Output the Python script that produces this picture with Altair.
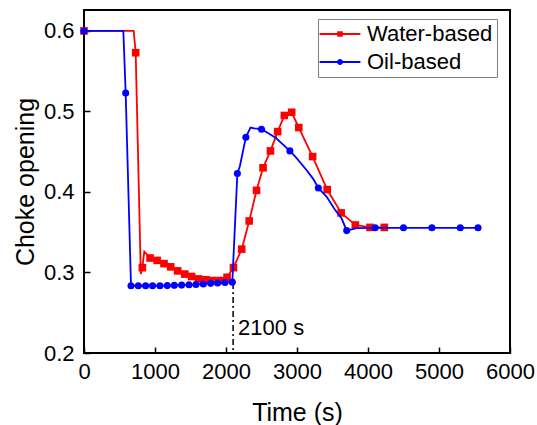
import altair as alt
import pandas as pd

# ---- data ----
water_x = [0, 700, 728, 800, 822, 849, 930, 1030, 1127, 1221, 1319, 1420, 1516, 1612,
           1716, 1812, 1915, 2015, 2105, 2221, 2327, 2430, 2522, 2626, 2728, 2822,
           2925, 3025, 3220, 3425, 3622, 3822, 4028, 4230]
water_y = [0.600, 0.600, 0.573, 0.298, 0.306, 0.326, 0.318, 0.315, 0.311, 0.307, 0.302,
           0.298, 0.295, 0.292, 0.291, 0.290, 0.290, 0.294, 0.306, 0.329, 0.364, 0.402,
           0.430, 0.451, 0.475, 0.495, 0.499, 0.480, 0.444, 0.403, 0.374, 0.359, 0.356,
           0.356]
water_marker = [1, 0, 1, 0, 1, 0, 1, 1, 1, 1, 1, 1, 1, 1, 1, 1, 1, 1, 1, 1, 1, 1, 1, 1,
                1, 1, 1, 1, 1, 1, 1, 1, 1, 1]

oil_x = [0, 554, 587, 662, 765, 868, 966, 1070, 1173, 1272, 1375, 1479, 1577, 1680,
         1784, 1882, 1986, 2089, 2160, 2195, 2280, 2345, 2400, 2500, 2596, 2704, 2800,
         2900, 2995, 3136, 3230, 3300, 3418, 3535, 3629, 3700, 3840, 4100, 4500, 4900,
         5300, 5550]
oil_y = [0.600, 0.600, 0.523, 0.2835, 0.2835, 0.2835, 0.2835, 0.2835, 0.2837, 0.2840,
         0.2843, 0.2847, 0.2850, 0.2858, 0.2865, 0.2870, 0.2875, 0.2880, 0.423, 0.432,
         0.468, 0.480, 0.479, 0.478, 0.473, 0.467, 0.459, 0.451, 0.442, 0.427, 0.416,
         0.405, 0.394, 0.378, 0.367, 0.352, 0.355, 0.3555, 0.3555, 0.3555, 0.3555, 0.3555]
oil_marker = [1, 0, 1, 1, 1, 1, 1, 1, 1, 1, 1, 1, 1, 1, 1, 1, 1, 1, 1, 0, 1, 0, 0, 1, 0,
              0, 0, 1, 0, 0, 0, 1, 0, 0, 0, 1, 0, 1, 1, 1, 1, 1]

series_names = ["Water-based", "Oil-based"]
series_colors = ["#ff0000", "#0000ff"]
series_shapes = ["square", "circle"]
series_sizes = [58, 50]

annot_x = [2100]
annot_top = [0.287]
annot_bottom = [0.2]
annot_text_y = [0.222]
annot_label = ["2100 s"]

x_ticks = [0, 1000, 2000, 3000, 4000, 5000, 6000]
y_ticks = [0.2, 0.3, 0.4, 0.5, 0.6]

# ---- build table ----
rows = []
for i, (xs, ys, ms) in enumerate([(water_x, water_y, water_marker), (oil_x, oil_y, oil_marker)]):
    for k, (a, b, m) in enumerate(zip(xs, ys, ms)):
        rows.append({"series": series_names[i], "t": a, "v": b, "m": m, "k": k})
df = pd.DataFrame(rows)

FONT = "Liberation Sans"

xscale = alt.Scale(domain=[0, 6000], nice=False, zero=False)
yscale = alt.Scale(domain=[0.2, 0.626], nice=False, zero=False)
cscale = alt.Scale(domain=series_names, range=series_colors)

line_path = "M-5.1,-0.25H5.1V0.25H-5.1Z"
sq_path = line_path + " M-0.7,-0.7H0.7V0.7H-0.7Z"
ci_path = line_path + " M0.75,0A0.75,0.75 0 1,1 -0.75,0A0.75,0.75 0 1,1 0.75,0Z"

legend = alt.Legend(
    title=None, orient="none", legendX=234, legendY=9,
    labelFont=FONT, labelFontSize=22, labelColor="black", labelLimit=400,
    symbolSize=64, symbolOffset=7, labelOffset=16, rowPadding=6,
    padding=4, strokeColor="#7f7f7f", fillColor="white", cornerRadius=0,
    symbolType={"expr": f"datum.value === 'Water-based' ? '{sq_path}' : '{ci_path}'"},
    symbolFillColor={"expr": "scale('color', datum.value)"},
    symbolStrokeWidth=0, symbolOpacity=1,
)

xaxis = alt.Axis(values=x_ticks, format="d", grid=False, domain=False, offset=-6,
                 tickSize=6, tickWidth=1.5, tickColor="black", labelPadding=8,
                 labelFont=FONT, labelFontSize=22, labelColor="black",
                 title="Time (s)", titleFont=FONT, titleFontSize=25, titleFontWeight="normal",
                 titleColor="black", titleX=213, titleY=73, titleBaseline="alphabetic",
                 titleAlign="center", labelFlush=False)
yaxis = alt.Axis(values=y_ticks, format=".1f", grid=False, domain=False, offset=-6,
                 tickSize=6, tickWidth=1.5, tickColor="black", labelPadding=10,
                 labelFont=FONT, labelFontSize=22, labelColor="black",
                 title="Choke opening", titleFont=FONT, titleFontSize=25,
                 titleFontWeight="normal", titleColor="black", titleX=-57, titleY=171.5,
                 titleAngle=270, titleBaseline="alphabetic", titleAlign="center",
                 labelFlush=False)

X = alt.X("t:Q", scale=xscale, axis=xaxis)
Y = alt.Y("v:Q", scale=yscale, axis=yaxis)
C = alt.Color("series:N", scale=cscale, legend=legend)

base = alt.Chart(df)
layers = []
for i, name in enumerate(series_names):
    sub = base.transform_filter(alt.datum.series == name)
    layers.append(sub.mark_line(strokeWidth=1.8, clip=True).encode(
        x=X, y=Y, color=C, order=alt.Order("k:Q")))
    layers.append(
        sub.transform_filter(alt.datum.m == 1)
        .mark_point(filled=True, opacity=1, shape=series_shapes[i], size=series_sizes[i])
        .encode(x=X, y=Y, color=C)
    )

annot = pd.DataFrame({"x": annot_x, "top": annot_top, "bottom": annot_bottom,
                      "ty": annot_text_y, "label": annot_label})
rule = alt.Chart(annot).mark_rule(color="black", strokeWidth=1.5,
                                  strokeDash=[6, 3, 2, 3]).encode(
    x=alt.X("x:Q", scale=xscale, axis=xaxis), y=alt.Y("top:Q", scale=yscale, axis=yaxis),
    y2="bottom:Q")
text = alt.Chart(annot).mark_text(font=FONT, fontSize=22, align="left",
                                  baseline="alphabetic", dx=5, color="black").encode(
    x=alt.X("x:Q", scale=xscale, axis=xaxis), y=alt.Y("ty:Q", scale=yscale, axis=yaxis),
    text="label:N")

chart = alt.layer(rule, *layers, text).properties(
    width=426, height=343,
    autosize=alt.AutoSizeParams(type="none"),
    padding={"left": 84, "top": 10, "right": 27, "bottom": 72},
).configure(background="white").configure_view(stroke="black", strokeWidth=2)

chart.save("out.html", embed_options={"renderer": "svg", "actions": False})
